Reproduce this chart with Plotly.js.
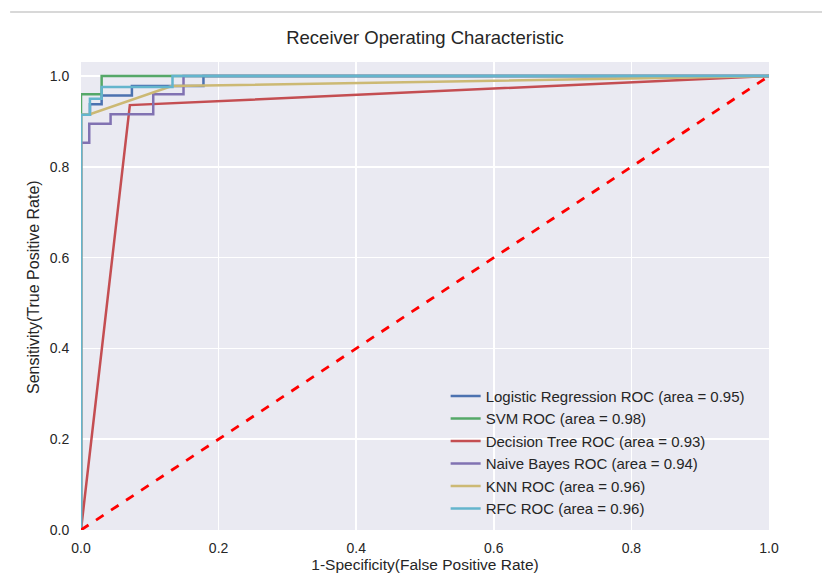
<!DOCTYPE html>
<html>
<head>
<meta charset="utf-8">
<script src="https://cdn.plot.ly/plotly-3.0.1.min.js"></script>
<style>html,body{margin:0;padding:0;background:#fff;}</style>
</head>
<body>
<div id="chart" style="width:822px;height:576px;"></div>
<script>
// Data
const lrFpr  = [0, 0, 0.013, 0.013, 0.030, 0.030, 0.074, 0.074, 0.178, 0.178, 1];
const lrTpr  = [0, 0.915, 0.915, 0.938, 0.938, 0.957, 0.957, 0.978, 0.978, 1.0, 1.0];
const svmFpr = [0, 0, 0.030, 0.030, 1];
const svmTpr = [0, 0.960, 0.960, 1.0, 1.0];
const dtFpr  = [0, 0.071, 1];
const dtTpr  = [0, 0.936, 1.0];
const nbFpr  = [0, 0, 0.012, 0.012, 0.043, 0.043, 0.105, 0.105, 0.149, 0.149, 1];
const nbTpr  = [0, 0.853, 0.853, 0.895, 0.895, 0.916, 0.916, 0.960, 0.960, 1.0, 1.0];
const knnFpr = [0, 0, 0.013, 0.132, 1];
const knnTpr = [0, 0.915, 0.916, 0.978, 1.0];
const rfcFpr = [0, 0, 0.013, 0.013, 0.030, 0.030, 0.133, 0.133, 1];
const rfcTpr = [0, 0.915, 0.915, 0.950, 0.950, 0.976, 0.976, 1.0, 1.0];
const diagX  = [0, 1];
const diagY  = [0, 1];

const names = [
  'Logistic Regression ROC (area = 0.95)',
  'SVM ROC (area = 0.98)',
  'Decision Tree ROC (area = 0.93)',
  'Naive Bayes ROC (area = 0.94)',
  'KNN ROC (area = 0.96)',
  'RFC ROC (area = 0.96)'
];
const tickVals = [0, 0.2, 0.4, 0.6, 0.8, 1.0];
const tickText = ['0.0', '0.2', '0.4', '0.6', '0.8', '1.0'];
const colors = ['#4C72B0', '#55A868', '#C44E52', '#8172B2', '#CCB974', '#64B5CD'];
const xs = [lrFpr, svmFpr, dtFpr, nbFpr, knnFpr, rfcFpr];
const ys = [lrTpr, svmTpr, dtTpr, nbTpr, knnTpr, rfcTpr];

const traces = xs.map((x, i) => ({
  x: x, y: ys[i], type: 'scatter', mode: 'lines', name: names[i],
  line: {color: colors[i], width: 2.5}
}));
traces.push({
  x: diagX, y: diagY, type: 'scatter', mode: 'lines', showlegend: false,
  line: {color: '#FF0000', width: 2.8, dash: 'dash'}
});

const ff = 'Liberation Sans, Arial, sans-serif';
const txt = '#262626';

const layout = {
  width: 822, height: 576,
  margin: {l: 81, r: 53, t: 62, b: 46},
  paper_bgcolor: '#ffffff',
  plot_bgcolor: '#EAEAF2',
  font: {family: ff, color: txt},
  title: {text: 'Receiver Operating Characteristic', font: {size: 18.5, family: ff, color: txt},
          xref: 'paper', x: 0.5, xanchor: 'center', y: 1 - 38/576, yanchor: 'middle'},
  xaxis: {
    range: [0, 1], tickvals: tickVals, ticktext: tickText,
    showgrid: true, gridcolor: '#ffffff', gridwidth: 1.5, zeroline: false, showline: false,
    ticks: 'outside', ticklen: 5, tickcolor: 'rgba(0,0,0,0)', tickfont: {size: 14, color: txt},
    title: {text: '1-Specificity(False Positive Rate)', font: {size: 15.5, color: txt}, standoff: 4},
    automargin: false
  },
  yaxis: {
    range: [0, 1.031], tickvals: tickVals, ticktext: tickText,
    showgrid: true, gridcolor: '#ffffff', gridwidth: 1.5, zeroline: false, showline: false,
    ticks: 'outside', ticklen: 8, tickcolor: 'rgba(0,0,0,0)', tickfont: {size: 14, color: txt},
    automargin: false
  },
  annotations: [{
    text: 'Sensitivity(True Positive Rate)', textangle: -90, showarrow: false,
    xref: 'paper', yref: 'paper', x: (33 - 81) / 688, y: (530 - 287) / 468,
    xanchor: 'center', yanchor: 'middle', font: {size: 16, family: ff, color: txt}
  }],
  legend: {
    x: 0.530, y: 0.0114, xanchor: 'left', yanchor: 'bottom',
    bgcolor: 'rgba(0,0,0,0)', borderwidth: 0,
    font: {size: 15, family: ff, color: txt},
    itemwidth: 30
  },
  shapes: [{
    type: 'line', xref: 'paper', yref: 'paper',
    x0: -0.103, x1: 1.08, y0: (530 - 12) / 468, y1: (530 - 12) / 468,
    line: {color: '#d8d8d8', width: 2}
  }],
  showlegend: true
};

Plotly.newPlot('chart', traces, layout, {displayModeBar: false, staticPlot: true});
</script>
</body>
</html>
